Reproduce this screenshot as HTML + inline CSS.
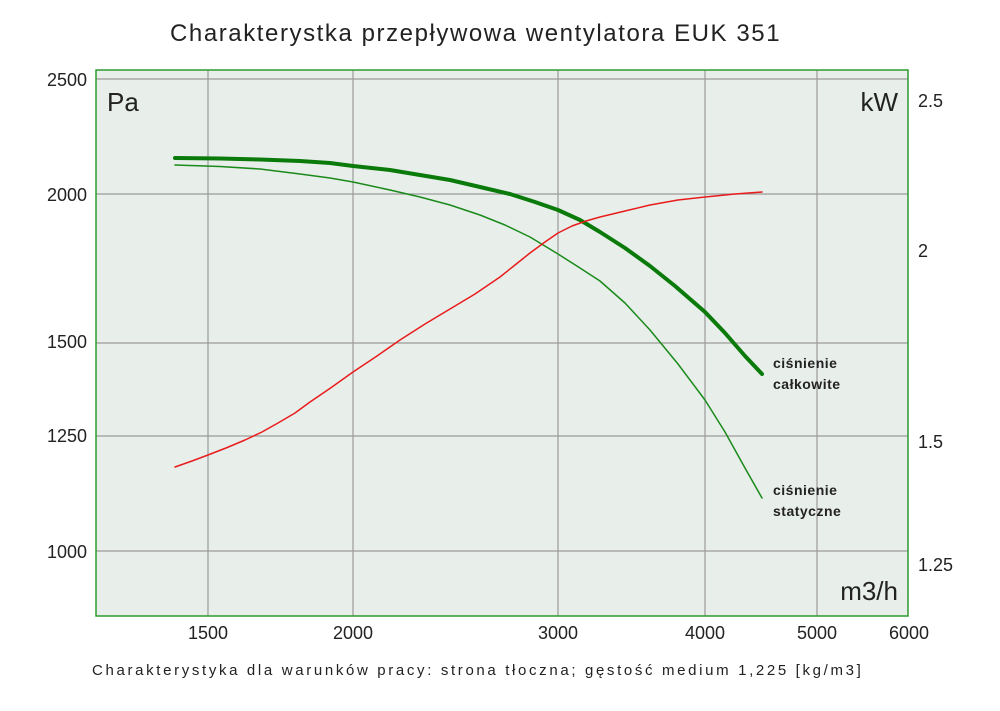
<!DOCTYPE html>
<html><head><meta charset="utf-8"><style>
body{margin:0;background:#fff;}
svg text{font-family:"Liberation Sans","DejaVu Sans",sans-serif;fill:#222;}
</style></head><body>
<svg width="1000" height="706" viewBox="0 0 1000 706" xmlns="http://www.w3.org/2000/svg">
<text x="170" y="41" font-size="24" letter-spacing="1.57">Charakterystka przepływowa wentylatora EUK 351</text>
<rect x="96" y="70" width="812" height="546" fill="#e8eeea"/>
<g stroke="#9a9a9a" stroke-width="1.2">
<line x1="208" y1="70" x2="208" y2="616"/><line x1="353" y1="70" x2="353" y2="616"/>
<line x1="558" y1="70" x2="558" y2="616"/><line x1="705" y1="70" x2="705" y2="616"/>
<line x1="817" y1="70" x2="817" y2="616"/>
<line x1="96" y1="79" x2="908" y2="79"/><line x1="96" y1="194" x2="908" y2="194"/>
<line x1="96" y1="343" x2="908" y2="343"/><line x1="96" y1="436" x2="908" y2="436"/>
<line x1="96" y1="551" x2="908" y2="551"/>
</g>
<rect x="96" y="70" width="812" height="546" fill="none" stroke="#2e9a2e" stroke-width="1.5"/>
<text x="107" y="111" font-size="26">Pa</text>
<text x="898" y="111" font-size="26" text-anchor="end">kW</text>
<text x="898" y="600" font-size="26" text-anchor="end">m3/h</text>
<g font-size="18" text-anchor="end">
<text x="87" y="86">2500</text><text x="87" y="201">2000</text><text x="87" y="348">1500</text>
<text x="87" y="442">1250</text><text x="87" y="558">1000</text>
</g>
<g font-size="18">
<text x="918" y="107">2.5</text><text x="918" y="257">2</text><text x="918" y="448">1.5</text><text x="918" y="571">1.25</text>
</g>
<g font-size="18" text-anchor="middle">
<text x="208" y="639">1500</text><text x="353" y="639">2000</text><text x="558" y="639">3000</text>
<text x="705" y="639">4000</text><text x="817" y="639">5000</text><text x="909" y="639">6000</text>
</g>
<text x="92" y="675" font-size="15" letter-spacing="2.65">Charakterystyka dla warunków pracy: strona tłoczna; gęstość medium 1,225 [kg/m3]</text>
<g fill="none" stroke-linejoin="round" stroke-linecap="round">
<polyline stroke="#0a7a0a" stroke-width="4" points="175,158 220,158.5 260,159.5 300,161 330,163 353,166 390,170 420,175 450,180 480,187 510,194 535,202 558,210 580,220 600,232 625,248 650,266 675,286 705,312 725,333 745,356 762,374"/>
<polyline stroke="#1a8a1a" stroke-width="1.5" points="175,165 220,166.5 260,169 300,174 330,178 353,182 390,190 420,197 450,205 480,215 505,225 530,237 558,254 580,268 600,281 625,303 650,330 678,364 705,400 725,432 745,468 762,498"/>
<polyline stroke="#e81c1c" stroke-width="1.5" points="175,467 192,461 208,455 226,448 245,440 262,432 278,423 295,413 310,402 332,387 353,372 377,356 400,340 425,324 450,309 475,294 500,277 515,265 530,253 545,242 558,233 572,226 586,221 600,217 625,211 650,205 678,200 705,197 735,194 762,192"/>
</g>
<g font-size="14" font-weight="bold" fill="#222" letter-spacing="0.5">
<text x="773" y="368">ciśnienie</text><text x="773" y="389">całkowite</text>
<text x="773" y="495">ciśnienie</text><text x="773" y="516">statyczne</text>
</g>
</svg>
</body></html>
